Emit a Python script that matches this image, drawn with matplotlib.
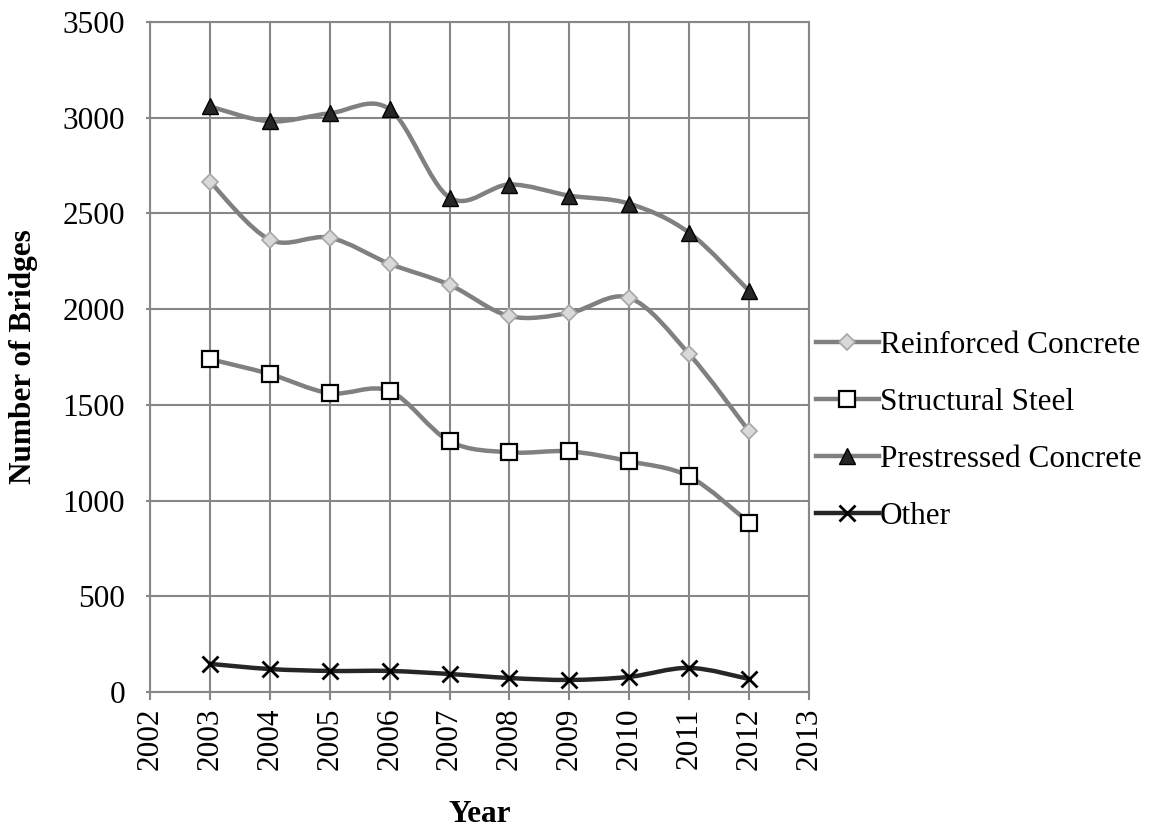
import numpy as np
import matplotlib
matplotlib.use("Agg")
import matplotlib.pyplot as plt
from matplotlib.path import Path
from matplotlib.patches import PathPatch
from matplotlib.lines import Line2D

plt.rcParams['font.family'] = ['Liberation Serif', 'DejaVu Serif']

years = [2003, 2004, 2005, 2006, 2007, 2008, 2009, 2010, 2011, 2012]
reinforced = [2666, 2363, 2373, 2237, 2127, 1964, 1980, 2059, 1765, 1362]
steel = [1739, 1661, 1561, 1572, 1310, 1252, 1257, 1205, 1126, 885]
prestressed = [3059, 2981, 3023, 3044, 2583, 2651, 2593, 2551, 2399, 2095]
other = [147, 120, 110, 110, 94, 73, 63, 79, 126, 68]

labels = ["Reinforced Concrete", "Structural Steel", "Prestressed Concrete", "Other"]


def smooth_path(x, y):
    # excel-like smoothed line: cubic bezier through each point (catmull-rom)
    x = np.asarray(x, float)
    y = np.asarray(y, float)
    n = len(x)
    verts = [(x[0], y[0])]
    codes = [Path.MOVETO]
    for i in range(n - 1):
        i0 = max(i - 1, 0)
        i3 = min(i + 2, n - 1)
        c1 = (x[i] + (x[i + 1] - x[i0]) / 6, y[i] + (y[i + 1] - y[i0]) / 6)
        c2 = (x[i + 1] - (x[i3] - x[i]) / 6, y[i + 1] - (y[i3] - y[i]) / 6)
        verts += [c1, c2, (x[i + 1], y[i + 1])]
        codes += [Path.CURVE4] * 3
    return Path(verts, codes)


W, H = 1149, 833
fig = plt.figure(figsize=(W / 100, H / 100), dpi=100)
L, R, T, B = 150, 809, 22, 692
ax = fig.add_axes([L / W, 1 - B / H, (R - L) / W, (B - T) / H])

grid_c = "#878787"
series = [
    (reinforced, "#808080", dict(marker="D", ms=8, mfc="#d9d9d9", mec="#a6a6a6", mew=1.2)),
    (steel, "#808080", dict(marker="s", ms=11, mfc="white", mec="black", mew=1.6)),
    (prestressed, "#808080", dict(marker="^", ms=12, mfc="#262626", mec="black", mew=1.0)),
    (other, "#262626", dict(marker="x", ms=11, mec="black", mew=2.0)),
]

handles = []
for (vals, col, mk), lab in zip(series, labels):
    ax.add_patch(PathPatch(smooth_path(years, vals), fill=False, edgecolor=col,
                           lw=3.2, capstyle="round", zorder=3))
    ax.plot(years, vals, ls="none", zorder=4, **mk)
    handles.append(Line2D([], [], color=col, lw=3.2, **mk))

fs = 22.5
ax.set_xlim(2002, 2013)
ax.set_ylim(0, 3500)
ax.set_xticks(range(2002, 2014))
ax.set_yticks(range(0, 3501, 500))
ax.tick_params(axis="x", labelrotation=90, labelsize=fs, length=6, color=grid_c,
               width=1.5, pad=5)
ax.tick_params(axis="y", labelsize=fs, length=6, direction="inout", color=grid_c,
               width=1.5, pad=15)
ax.grid(True, color=grid_c, lw=1.5)
ax.set_axisbelow(True)
for s in ax.spines.values():
    s.set_color(grid_c)
    s.set_linewidth(1.5)

fig.text(23 / W, 1 - (T + B) / 2 / H, "Number of Bridges", fontsize=fs,
         fontweight="bold", rotation=90, ha="center", va="center")
fig.text(480 / W, 1 - 815 / H, "Year", fontsize=fs, fontweight="bold",
         ha="center", va="center")

fig.legend(handles=handles, labels=labels, loc="center left",
           bbox_to_anchor=(816 / W, 1 - 431 / H), frameon=False,
           fontsize=fs, handlelength=2.0, handletextpad=0.05, labelspacing=0.89,
           borderaxespad=0, borderpad=0)

fig.savefig("out.png", dpi=100)
